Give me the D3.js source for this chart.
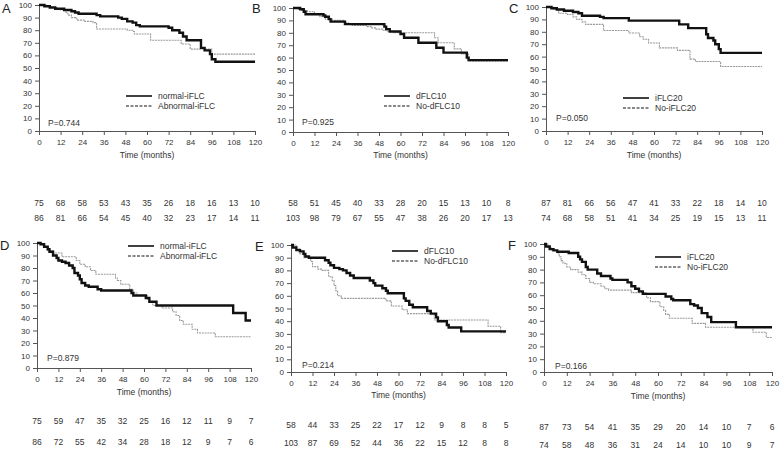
<!DOCTYPE html>
<html><head><meta charset="utf-8">
<script src="https://cdn.jsdelivr.net/npm/d3@7"></script>
<style>body{margin:0;background:#fff}svg{display:block}</style>
</head><body><svg id="c" width="780" height="453"></svg>
<script>
// ---------- data ----------
const monthTicks = [0,12,24,36,48,60,72,84,96,108,120];
const survTicks = [0,10,20,30,40,50,60,70,80,90,100];
const panelLetters = ["A","B","C","D","E","F"];
const legendLabels = [
  ["normal-iFLC","Abnormal-iFLC"],
  ["dFLC10","No-dFLC10"],
  ["iFLC20","No-iFLC20"],
  ["normal-iFLC","Abnormal-iFLC"],
  ["dFLC10","No-dFLC10"],
  ["iFLC20","No-iFLC20"]
];
const pValues = ["P=0.744","P=0.925","P=0.050","P=0.879","P=0.214","P=0.166"];
const xTitle = "Time (months)";

// step points [month, survival %]
const curveA1 = [[0,100],[3,99],[6,98],[9,97],[14,96],[18,95],[20,94],[22,93],[32,92],[34,91],[44,90],[46,89],[49,87],[52,86],[54,84],[56,83],[72,82],[74,80],[78,78],[80,75],[82,72],[90,66],[92,64],[95,61],[96,57],[98,55]];
const curveA2 = [[0,100],[4,99],[7,98],[10,97],[12,96],[15,94],[16,92],[18,90],[21,88],[25,87],[30,86],[32,81],[49,80],[52,79],[53,77],[62,72],[79,69],[84,65],[96,61]];
const curveB1 = [[0,100],[4,99],[6,97],[7,95],[17,94],[18,93],[20,91],[21,89],[29,87],[51,85],[52,83],[54,81],[60,79],[62,76],[70,72],[80,68],[84,64],[97,60],[98,58]];
const curveB2 = [[0,100],[3,99],[5,98],[8,97],[12,95],[15,93],[18,91],[22,90],[29,88],[31,87],[33,86],[41,85],[44,84],[46,83],[50,82],[53,81],[56,80],[79,76],[81,72],[90,67],[94,63],[98,57]];
const curveC1 = [[0,100],[3,99],[6,98],[10,97],[15,96],[18,95],[20,93],[30,92],[32,91],[46,89],[74,86],[79,83],[89,78],[90,75],[93,73],[94,70],[96,66],[97,63]];
const curveC2 = [[0,100],[4,98],[7,95],[12,94],[15,92],[17,90],[20,88],[22,86],[32,81],[46,79],[52,76],[54,74],[57,71],[63,67],[73,65],[80,58],[83,56],[97,52]];
const curveD1 = [[0,100],[2,99],[4,97],[6,95],[7,93],[9,90],[11,88],[12,86],[14,85],[16,84],[18,82],[20,80],[21,76],[23,74],[24,71],[25,68],[27,66],[29,65],[34,63],[36,62],[53,60],[54,58],[61,56],[63,53],[67,50],[110,44],[117,38]];
const curveD2 = [[0,100],[3,98],[4,97],[6,94],[9,92],[14,89],[22,86],[24,83],[27,81],[30,78],[33,75],[44,72],[45,70],[47,67],[52,63],[54,60],[56,58],[62,55],[63,53],[65,50],[70,48],[76,45],[78,42],[80,38],[82,35],[87,31],[90,28],[100,25]];
const curveE1 = [[0,100],[1,98],[3,96],[5,95],[7,93],[8,91],[10,90],[19,88],[21,86],[22,84],[24,82],[27,81],[29,80],[31,78],[33,76],[35,74],[44,72],[46,70],[47,68],[51,66],[53,64],[54,62],[63,58],[64,56],[66,53],[68,51],[76,48],[78,46],[81,43],[82,40],[87,37],[88,35],[95,32]];
const curveE2 = [[0,100],[3,97],[5,93],[7,90],[11,87],[12,83],[15,81],[17,80],[21,75],[23,72],[24,68],[25,64],[26,60],[28,58],[53,56],[56,52],[62,49],[65,46],[80,41],[110,36],[117,31]];
const curveF1 = [[0,100],[1,98],[3,96],[5,95],[7,94],[13,93],[18,90],[19,88],[20,86],[22,82],[23,80],[28,77],[30,75],[35,73],[36,72],[44,70],[46,67],[48,65],[50,63],[52,61],[64,59],[67,57],[68,56],[77,53],[79,52],[81,50],[83,46],[86,43],[88,39],[101,35]];
const curveF2 = [[0,100],[2,97],[4,95],[7,93],[8,90],[9,87],[10,85],[12,82],[14,80],[18,78],[20,76],[22,73],[24,70],[26,69],[30,67],[32,65],[34,64],[46,62],[54,58],[56,55],[61,51],[63,48],[64,45],[66,42],[78,38],[85,35],[110,31],[117,27]];

const riskA1 = [75,68,58,53,43,35,26,18,16,13,10];
const riskA2 = [86,81,66,54,45,40,32,23,17,14,11];
const riskB1 = [58,51,45,40,33,28,20,15,13,10,8];
const riskB2 = [103,98,79,67,55,47,38,26,20,17,13];
const riskC1 = [87,81,66,56,47,41,33,22,18,14,10];
const riskC2 = [74,68,58,51,41,34,25,19,15,13,11];
const riskD1 = [75,59,47,35,32,25,16,12,11,9,7];
const riskD2 = [86,72,55,42,34,28,18,12,9,7,6];
const riskE1 = [58,44,33,25,22,17,12,9,8,8,5];
const riskE2 = [103,87,69,52,44,36,22,15,12,8,8];
const riskF1 = [87,73,54,41,35,29,20,14,10,7,6];
const riskF2 = [74,58,48,36,31,24,14,10,10,9,7];

const curves = [[curveA1,curveA2],[curveB1,curveB2],[curveC1,curveC2],[curveD1,curveD2],[curveE1,curveE2],[curveF1,curveF2]];
const risks = [[riskA1,riskA2],[riskB1,riskB2],[riskC1,riskC2],[riskD1,riskD2],[riskE1,riskE2],[riskF1,riskF2]];

// ---------- layout ----------
const layout = [
  {x0:39,x1:255,yT:5,yB:131, letter:[2,13], leg:[126,96], p:[48,123], time:155, rows:[203,218]},
  {x0:293,x1:508,yT:8,yB:132, letter:[252,13], leg:[384,96], p:[302,122], time:155, rows:[203,218]},
  {x0:546,x1:762,yT:7,yB:131, letter:[509,13], leg:[623,98], p:[556,118], time:155, rows:[203,218]},
  {x0:37,x1:251,yT:243,yB:368, letter:[0,250], leg:[128,246], p:[47,358], time:392, rows:[421,442]},
  {x0:291,x1:506,yT:245,yB:372, letter:[255,251], leg:[392,251], p:[302,365], time:395, rows:[425,443]},
  {x0:544,x1:772,yT:244,yB:372, letter:[508,250], leg:[655,257], p:[555,366], time:396, rows:[427,445]}
];
const narrow = "'Liberation Sans Narrow','Arial Narrow',Arial,sans-serif";
const plain = "'Liberation Sans',Arial,sans-serif";

const svg = d3.select("#c");
layout.forEach((L,i)=>{
  const x = d3.scaleLinear().domain([0,120]).range([L.x0,L.x1]);
  const y = d3.scaleLinear().domain([0,100]).range([L.yB,L.yT]);
  const g = svg.append("g");

  // axes
  const ax = g.append("g").attr("transform",`translate(0,${L.yB})`)
    .call(d3.axisBottom(x).tickValues(monthTicks).tickSize(4).tickPadding(4).tickSizeOuter(0));
  const ay = g.append("g").attr("transform",`translate(${L.x0},0)`)
    .call(d3.axisLeft(y).tickValues(survTicks).tickSize(4).tickPadding(3).tickSizeOuter(0));
  [ax,ay].forEach(a=>{
    a.select(".domain").attr("stroke","#555").attr("stroke-width",1);
    a.selectAll(".tick line").attr("stroke","#555");
    a.selectAll("text").attr("fill","#333").style("font-family",narrow).style("font-size","8px");
  });

  // curves
  const line = d3.line().x(d=>x(d[0])).y(d=>y(d[1])).curve(d3.curveStepAfter);
  const [c1,c2] = curves[i];
  const ext = c => c.concat([[120,c[c.length-1][1]]]);
  g.append("path").datum(ext(c2)).attr("d",line).attr("fill","none")
    .attr("stroke","#9a9a9a").attr("stroke-width",1.1).attr("stroke-dasharray","2,0.8");
  g.append("path").datum(ext(c1)).attr("d",line).attr("fill","none")
    .attr("stroke","#111").attr("stroke-width",2.4);

  // panel letter
  g.append("text").attr("x",L.letter[0]).attr("y",L.letter[1]).text(panelLetters[i])
    .style("font-family",plain).style("font-size","13px").attr("fill","#222");

  // legend
  const [lx,ly] = L.leg;
  g.append("line").attr("x1",lx).attr("x2",lx+26).attr("y1",ly).attr("y2",ly)
    .attr("stroke","#111").attr("stroke-width",1.6);
  g.append("line").attr("x1",lx).attr("x2",lx+26).attr("y1",ly+10).attr("y2",ly+10)
    .attr("stroke","#111").attr("stroke-width",1).attr("stroke-dasharray","3,1.5");
  legendLabels[i].forEach((t,k)=>{
    g.append("text").attr("x",lx+32).attr("y",ly+k*10).attr("dy","0.35em").text(t)
      .style("font-family",plain).style("font-size","8.5px").attr("fill","#333");
  });

  // p-value
  g.append("text").attr("x",L.p[0]).attr("y",L.p[1]).attr("dy","0.35em").text(pValues[i])
    .style("font-family",plain).style("font-size","8.5px").attr("fill","#333");

  // x title
  g.append("text").attr("x",(L.x0+L.x1)/2).attr("y",L.time).attr("dy","0.35em")
    .attr("text-anchor","middle").text(xTitle)
    .style("font-family",narrow).style("font-size","8.5px").attr("fill","#333");

  // risk table
  risks[i].forEach((row,k)=>{
    g.append("g").selectAll("text").data(row).join("text")
      .attr("x",(d,j)=>x(monthTicks[j])).attr("y",L.rows[k]).attr("dy","0.35em")
      .attr("text-anchor","middle").text(d=>d)
      .style("font-family",narrow).style("font-size","8.5px").attr("fill","#333");
  });
});
</script></body></html>
